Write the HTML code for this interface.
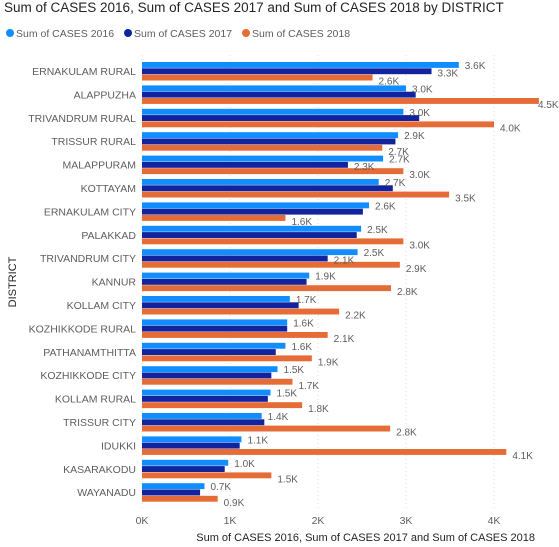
<!DOCTYPE html>
<html><head><meta charset="utf-8"><style>
body{margin:0;background:#fff;font-family:"Liberation Sans",sans-serif;}
svg{display:block}
</style></head><body>
<svg id="chart" width="559" height="547">
<text x="4" y="12" font-size="13.5" fill="#252423">Sum of CASES 2016, Sum of CASES 2017 and Sum of CASES 2018 by DISTRICT</text>
<g>
<circle cx="10" cy="33" r="4" fill="#118dff"/>
<text x="16" y="37" font-size="10.5" fill="#605e5c">Sum of CASES 2016</text>
<circle cx="128" cy="33" r="4" fill="#12239e"/>
<text x="134" y="37" font-size="10.5" fill="#605e5c">Sum of CASES 2017</text>
<circle cx="246" cy="33" r="4" fill="#e66c37"/>
<text x="252" y="37" font-size="10.5" fill="#605e5c">Sum of CASES 2018</text>
</g>
<text transform="translate(16,282) rotate(-90)" text-anchor="middle" font-size="11" fill="#252423">DISTRICT</text>
<text x="535" y="541" text-anchor="end" font-size="11" fill="#252423">Sum of CASES 2016, Sum of CASES 2017 and Sum of CASES 2018</text>
<g id="grid"></g><g id="bars"></g><g id="labels"></g>
</svg>
<script>
const categories=["ERNAKULAM RURAL","ALAPPUZHA","TRIVANDRUM RURAL","TRISSUR RURAL","MALAPPURAM","KOTTAYAM","ERNAKULAM CITY","PALAKKAD","TRIVANDRUM CITY","KANNUR","KOLLAM CITY","KOZHIKKODE RURAL","PATHANAMTHITTA","KOZHIKKODE CITY","KOLLAM RURAL","TRISSUR CITY","IDUKKI","KASARAKODU","WAYANADU"];
const cases2016=[3.60,3.00,2.97,2.91,2.74,2.69,2.58,2.49,2.45,1.90,1.68,1.65,1.63,1.54,1.46,1.36,1.13,0.98,0.71];
const cases2017=[3.29,3.11,3.15,2.88,2.34,2.85,2.51,2.44,2.11,1.87,1.78,1.65,1.52,1.47,1.43,1.39,1.11,0.94,0.66];
const cases2018=[2.62,4.51,4.00,2.73,2.97,3.49,1.63,2.97,2.93,2.83,2.24,2.11,1.93,1.71,1.82,2.82,4.14,1.47,0.86];
const xTicks=[0,1,2,3,4];
const xTickLabels=["0K","1K","2K","3K","4K"];
const NS="http://www.w3.org/2000/svg";
const x0=142,pxPerK=88,yTop=62,step=23.4,barH=6.3;
function xs(v){return x0+v*pxPerK;}
function ys(i){return yTop+i*step;}
function mk(tag,attrs,parent){const e=document.createElementNS(NS,tag);for(const k in attrs)e.setAttribute(k,attrs[k]);parent.appendChild(e);return e;}
const grid=document.getElementById('grid'),bars=document.getElementById('bars'),labels=document.getElementById('labels');
xTicks.forEach((t,i)=>{
 const l=mk('line',{x1:xs(t),x2:xs(t),y1:55,y2:510,stroke:'#e1dfdd','stroke-dasharray':'1,3'},grid);
 
 
 const tx=mk('text',{x:xs(t),y:524,'text-anchor':'middle','font-size':'10.5',fill:'#605e5c'},grid);
 tx.textContent=xTickLabels[i];
 
 
});
const series=[cases2016,cases2017,cases2018],colors=['#118dff','#12239e','#e66c37'];
categories.forEach((c,i)=>{
 const t=mk('text',{x:136,y:ys(i)+13,'text-anchor':'end','font-size':'10.5',fill:'#605e5c'},labels);
 t.textContent=c;
 
 
 series.forEach((s,k)=>{
  const y=ys(i)+k*barH;
  const r=mk('rect',{x:x0,y:y,width:xs(s[i])-x0,height:barH-0.4,fill:colors[k]},bars);
  
  
  if(k==1 && !(cases2016[i]-cases2017[i]>0.25)) return;
  const lx=Math.min(xs(s[i])+6,538);
  const v=mk('text',{x:lx,y:y+7+(k==0?0:k==2?3:1),'font-size':'10','fill':'#605e5c'},labels);
  v.textContent=s[i].toFixed(1)+'K';
  
  
 });
});
</script>
</body></html>
